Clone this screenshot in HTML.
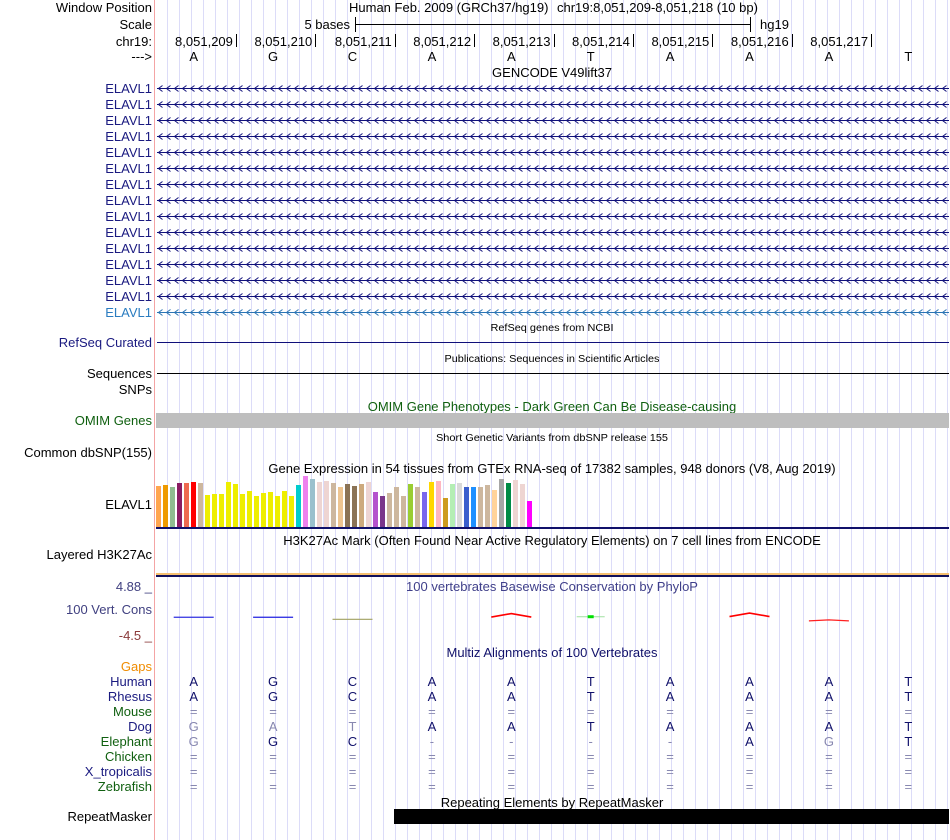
<!DOCTYPE html>
<html><head><meta charset="utf-8"><style>
html,body{margin:0;padding:0;background:#fff;width:950px;height:840px;overflow:hidden}
svg{display:block;font-family:"Liberation Sans",sans-serif}
</style></head><body>
<svg id="main" width="950" height="840" viewBox="0 0 950 840" xmlns="http://www.w3.org/2000/svg">
<defs>
<pattern id="chev" x="157" y="84.5" width="8" height="8" patternUnits="userSpaceOnUse">
<path d="M5.5,1 L1.5,4 L5.5,7" fill="none" stroke="#10107a" stroke-width="1"/>
</pattern>
<pattern id="chev2" x="157" y="84.5" width="8" height="8" patternUnits="userSpaceOnUse">
<path d="M5.5,1 L1.5,4 L5.5,7" fill="none" stroke="#2a74b4" stroke-width="1"/>
</pattern>
</defs>
<g id="grid"></g>
<line x1="154.5" y1="0" x2="154.5" y2="840" stroke="#f4a4a4"/>

<g font-size="13" text-anchor="end">
<text x="152" y="12" fill="#000">Window Position</text>
<text x="152" y="29" fill="#000">Scale</text>
<text x="152" y="46" fill="#000">chr19:</text>
<text x="152" y="61" fill="#000">---&gt;</text>
<text x="152" y="347" fill="#1a1a80">RefSeq Curated</text>
<text x="152" y="378" fill="#000">Sequences</text>
<text x="152" y="394" fill="#000">SNPs</text>
<text x="152" y="425" fill="#106010">OMIM Genes</text>
<text x="152" y="457" fill="#000">Common dbSNP(155)</text>
<text x="152" y="509" fill="#000">ELAVL1</text>
<text x="152" y="559" fill="#000">Layered H3K27Ac</text>
<text x="152" y="591" fill="#404080">4.88 _</text>
<text x="152" y="614" fill="#404080">100 Vert. Cons</text>
<text x="152" y="640" fill="#8b3a3a">-4.5 _</text>
<text x="152" y="671" fill="#f08c00">Gaps</text>
<text x="152" y="821" fill="#000">RepeatMasker</text>
</g>

<g font-size="13">
<text x="349" y="12">Human Feb. 2009 (GRCh37/hg19)</text>
<text x="557" y="12">chr19:8,051,209-8,051,218 (10 bp)</text>
<text x="350" y="29" text-anchor="end">5 bases</text>
<line x1="355" y1="24.5" x2="750" y2="24.5" stroke="#000"/>
<line x1="355.5" y1="17" x2="355.5" y2="32" stroke="#000"/>
<line x1="750.5" y1="17" x2="750.5" y2="32" stroke="#000"/>
<text x="760" y="29">hg19</text>
</g>
<g id="ruler" font-size="13"></g>

<g font-size="13" text-anchor="middle" fill="#000">
<text x="552" y="77">GENCODE V49lift37</text>
<text x="552" y="591" fill="#40408a">100 vertebrates Basewise Conservation by PhyloP</text>
<text x="552" y="411" fill="#106010">OMIM Gene Phenotypes - Dark Green Can Be Disease-causing</text>
<text x="552" y="473">Gene Expression in 54 tissues from GTEx RNA-seq of 17382 samples, 948 donors (V8, Aug 2019)</text>
<text x="552" y="545">H3K27Ac Mark (Often Found Near Active Regulatory Elements) on 7 cell lines from ENCODE</text>
<text x="552" y="657" fill="#10106a">Multiz Alignments of 100 Vertebrates</text>
<text x="552" y="807">Repeating Elements by RepeatMasker</text>
</g>
<g font-size="10" text-anchor="middle" fill="#000">
<text x="552" y="331" textLength="123" lengthAdjust="spacingAndGlyphs">RefSeq genes from NCBI</text>
<text x="552" y="362" textLength="215" lengthAdjust="spacingAndGlyphs">Publications: Sequences in Scientific Articles</text>
<text x="552" y="441" textLength="232" lengthAdjust="spacingAndGlyphs">Short Genetic Variants from dbSNP release 155</text>
</g>

<g id="genes"></g>

<line x1="157" y1="342.5" x2="949" y2="342.5" stroke="#10107a"/>
<line x1="157" y1="373.5" x2="949" y2="373.5" stroke="#000"/>
<rect x="156" y="413" width="793" height="15" fill="#bebebe"/>

<g id="gtex"></g>
<rect x="156" y="527" width="793" height="2" fill="#10106a"/>
<rect x="156" y="573" width="793" height="2" fill="#f5c070"/>
<rect x="156" y="575" width="793" height="2" fill="#10105a"/>

<g id="phylop"></g>
<g id="multiz" font-size="13" text-anchor="middle"></g>
<rect x="394" y="809" width="555" height="15" fill="#000"/>
</svg>
<script>
const NS="http://www.w3.org/2000/svg";
const bases=["A","G","C","A","A","T","A","A","A","T"];
const tickLabels=["8,051,209","8,051,210","8,051,211","8,051,212","8,051,213","8,051,214","8,051,215","8,051,216","8,051,217"];
const gtexValues=[41,42,40,44,44,45,44,32,33,33,45,43,33,36,31,34,35,31,36,31,42,51,48,45,46,44,40,43,41,43,45,35,31,34,40,31,43,40,35,45,46,29,43,44,40,40,40,42,37,48,44,47,43,26];
const gtexColors=["#FFA54F","#EE9A00","#8FBC8F","#8B1C62","#EE6A50","#FF0000","#CDB79E","#EEEE00","#EEEE00","#EEEE00","#EEEE00","#EEEE00","#EEEE00","#EEEE00","#EEEE00","#EEEE00","#EEEE00","#EEEE00","#EEEE00","#EEEE00","#00CDCD","#EE82EE","#9AC0CD","#EED5D2","#EED5D2","#CDB79E","#EEC591","#8B7355","#8B7355","#CDAA7D","#EED5D2","#B452CD","#7A378B","#CDB79E","#CDB79E","#CDB79E","#9ACD32","#CDB79E","#7A67EE","#FFD700","#FFB6C1","#CD9B1D","#B4EEB4","#D9D9D9","#3A5FCD","#1E90FF","#CDB79E","#CDB79E","#FFD39B","#A6A6A6","#008B45","#EED5D2","#EED5D2","#FF00FF"];
const phyloValues=[-1.1,-1.1,-1.5,null,-0.4,-1.0,null,-0.3,-1.6,null];
const phyloColors=["#3030e0","#2020e0","#a0a060",null,"#ff0000","#00e000",null,"#ff0000","#ff2020",null];
const species=["Human","Rhesus","Mouse","Dog","Elephant","Chicken","X_tropicalis","Zebrafish"];
const speciesColors=["#1a1a80","#1a1a80","#106010","#1a1a80","#106010","#106010","#1a1a80","#106010"];
const alignRows=["AGCAATAAAT","AGCAATAAAT","==========","GATAATAAAT","GGC----AGT","==========","==========","=========="];
const alignFaint=["0000000000","0000000000","1111111111","1110000000","1001111010","1111111111","1111111111","1111111111"];
const geneCount=15;

const X0=155, BW=(949-155)/10;
const baseX=i=>X0+BW*(i+0.5);
function el(tag,attrs,parent){const e=document.createElementNS(NS,tag);for(const k in attrs)e.setAttribute(k,attrs[k]);parent.appendChild(e);return e;}

const grid=document.getElementById('grid');
for(let x=167;x<950;x+=12){
  const l=el('line',{x1:x+0.5,y1:0,x2:x+0.5,y2:840,stroke:'#dcdcf8'},grid);
  
  
}

const ruler=document.getElementById('ruler');
tickLabels.forEach((t,i)=>{
  const tx=X0+BW*(i+1)+1.5;
  const txt=el('text',{x:tx-3,y:46,'text-anchor':'end'},ruler);txt.textContent=t;
  
  
  const tk=el('line',{x1:Math.round(tx)+0.5,y1:34,x2:Math.round(tx)+0.5,y2:47,stroke:'#000'},ruler);
  
  
});
bases.forEach((b,i)=>{
  const t=el('text',{x:baseX(i)-1,y:61,'text-anchor':'middle'},ruler);t.textContent=b;
  
  
});

const genes=document.getElementById('genes');
for(let k=0;k<geneCount;k++){
  const y=88+16*k;const last=k===geneCount-1;
  const lab=el('text',{x:152,y:y+5,'text-anchor':'end','font-size':13,fill:last?'#2a7cc0':'#1a1a80'},genes);lab.textContent='ELAVL1';
  
  
  const ln=el('line',{x1:157,y1:y+0.5,x2:949,y2:y+0.5,stroke:last?'#2a74b4':'#10107a'},genes);
  
  
  const ch=el('rect',{x:157,y:y-3.5,width:792,height:8,fill:last?'url(#chev2)':'url(#chev)'},genes);
  
  
}

const gtex=document.getElementById('gtex');
const gBase=527, gScale=1.0;
gtexValues.forEach((v,i)=>{
  const h=v*gScale;
  const r=el('rect',{x:156+7*i,y:gBase-h,width:5,height:h,fill:gtexColors[i]},gtex);
  
  
});

const ph=document.getElementById('phylop');
const pY=v=>586+(4.88-v)*(635-586)/(4.88+4.5);
phyloValues.forEach((v,i)=>{
  if(v===null)return;
  const cx=baseX(i)-1, x1=cx-20, x2=cx+20;
  if(i===5){
    const l=el('line',{x1:x1+6,y1:pY(v),x2:x2-6,y2:pY(v),stroke:'#a0e0a0'},ph);
    
    
    const r=el('rect',{x:cx-3,y:pY(v)-1.5,width:6,height:3,fill:phyloColors[i]},ph);
    
    
    return;
  }
  const peaked=phyloColors[i].indexOf('#ff')===0;
  const edge=peaked?pY(v)+(v>-1?3.5:1):pY(v);
  const pts=`${x1},${edge} ${cx},${pY(v)} ${x2},${edge}`;
  const p=el('polyline',{points:pts,fill:'none',stroke:phyloColors[i],'stroke-width':peaked&&v>-1?1.6:1.2},ph);
  
  
});

const mz=document.getElementById('multiz');
species.forEach((s,r)=>{
  const y=686+15*r;
  const lab=el('text',{x:152,y:y,'text-anchor':'end',fill:speciesColors[r]},mz);lab.textContent=s;
  
  
  for(let i=0;i<10;i++){
    const c=alignRows[r][i];const faint=alignFaint[r][i]==='1';
    const t=el('text',{x:baseX(i)-1,y:y,fill:faint?'#8888b0':'#10106a'},mz);t.textContent=c;
    
    
  }
});
</script>
</body></html>
